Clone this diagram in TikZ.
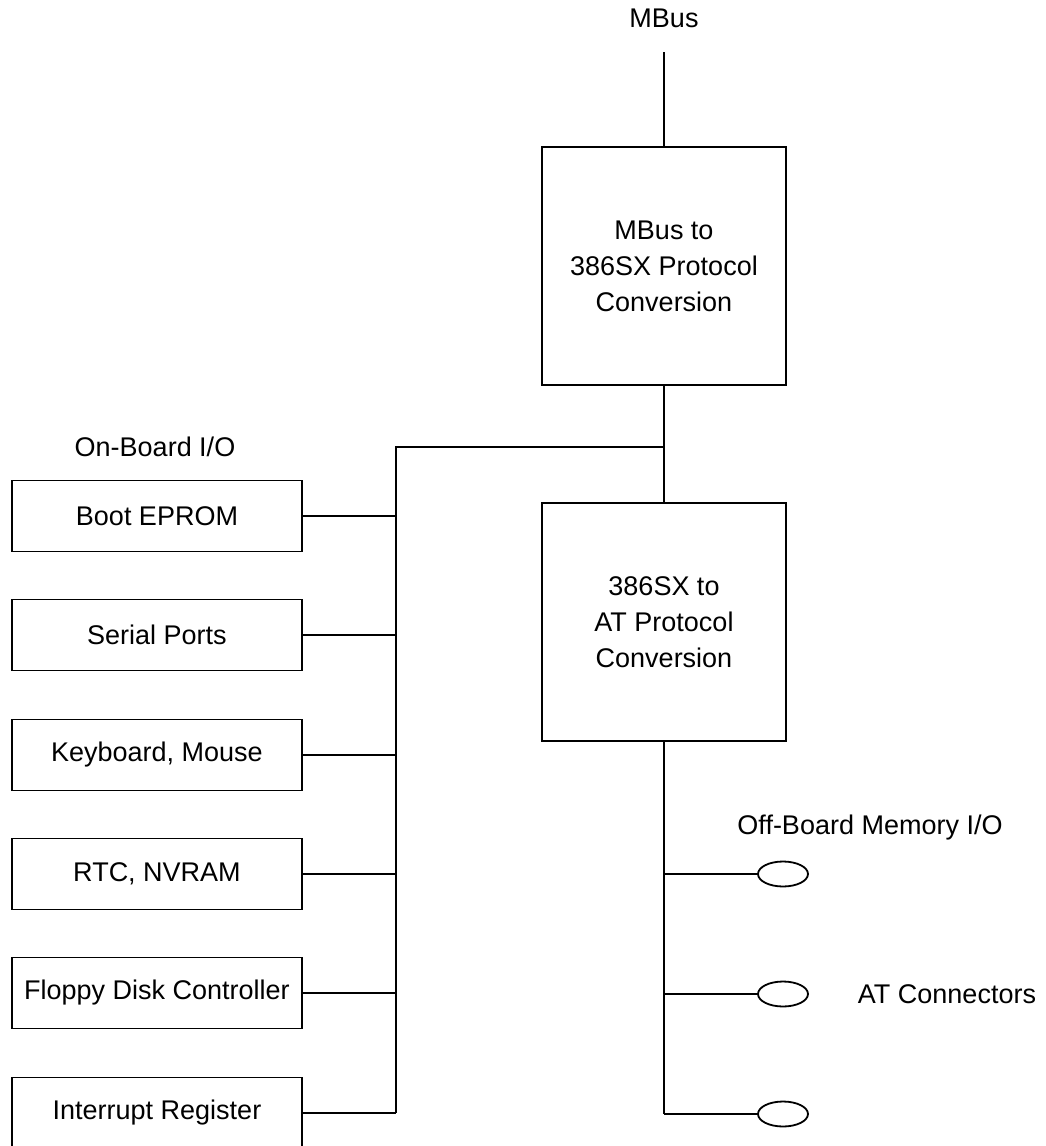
\documentclass[tikz,border=0pt]{standalone}
\usepackage{fontspec}
\setmainfont{Liberation Sans}
\usepackage{tikz}
\usetikzlibrary{calc, positioning, shapes.geometric}
\tikzset{
    convBlock/.style={rectangle, draw=black, line width=2.2pt, fill=white, align=center, minimum width=244pt, minimum height=238pt, font=\fontsize{27}{36}\selectfont},
    ioBlock/.style={rectangle, draw=black, line width=1.8pt, fill=white, align=center, minimum width=290pt, minimum height=71pt, font=\fontsize{27}{30}\selectfont},
    slot/.style={ellipse, draw=black, line width=1.8pt, minimum width=50pt, minimum height=25pt, inner sep=0pt},
    label/.style={font=\fontsize{27}{30}\selectfont, align=center},
    bus/.style={line width=2.6pt},
    wire/.style={line width=1.9pt}
}
\begin{document}
\begin{tikzpicture}[x=1pt, y=-1pt]
        \useasboundingbox (0,0) rectangle (1046,1146);

        % Protocol conversion
        \node[label] (MBus) at (664,18) {MBus};
        \coordinate (MBusEnd) at (664,52);
        \node[convBlock] (Conv1) at (664,266) {MBus to\\386SX Protocol\\Conversion};
        \node[convBlock] (Conv2) at (664,622) {386SX to\\AT Protocol\\Conversion};
        \coordinate (Tap) at (664,447);

        % On-board I/O
        \node[label] (OnBoard) at (155,447) {On-Board I/O};
        \coordinate (BusTop) at (396,447);
        \node[ioBlock] (IO1) at (157,516) {Boot EPROM};
        \node[ioBlock] (IO2) at (157,635) {Serial Ports};
        \node[ioBlock] (IO3) at (157,755) {Keyboard, Mouse};
        \node[ioBlock] (IO4) at (157,874) {RTC, NVRAM};
        \node[ioBlock] (IO5) at (157,993) {Floppy Disk Controller};
        \node[ioBlock] (IO6) at (157,1113) {Interrupt Register};
        \coordinate (BusBot) at (396,1113);

        % Off-board
        \node[label] (OffBoard) at (870,828) {Off-Board Memory I/O};
        \node[slot] (AT1) at (783,874) {};
        \node[slot] (AT2) at (783,994) {};
        \node[slot] (AT3) at (783,1114) {};
        \node[label] (ATConn) at (947,994) {AT Connectors};

        % Connections
        \draw[bus] (MBusEnd) -- (Conv1.north);
        \draw[bus] (Conv1.south) -- (Conv2.north);
        \draw[bus] (Tap) -- (BusTop) -- (BusBot);
        \foreach \i in {1,...,6} {
            \draw[wire] (IO\i.east) -- (IO\i.east -| BusTop);
        }
        \draw[bus] (Conv2.south) -- (Conv2.south |- AT3);
        \foreach \i in {1,2,3} {
            \draw[wire] (AT\i.west -| Conv2.south) -- (AT\i.west);
        }
    \end{tikzpicture}
\end{document}
